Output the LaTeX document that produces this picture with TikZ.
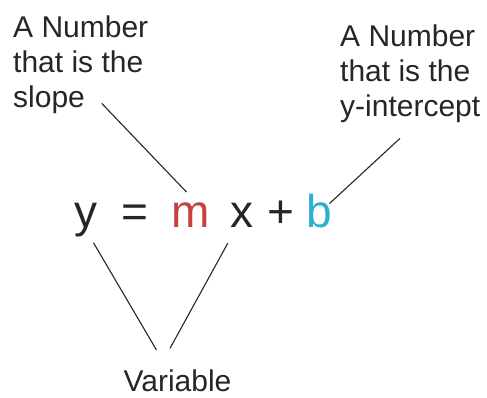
\documentclass[tikz,border=0pt]{standalone}
\usepackage{fontspec}
\setmainfont{Liberation Sans}
\definecolor{ink}{RGB}{38,38,38}
\definecolor{slopered}{RGB}{198,66,64}
\definecolor{cutblue}{RGB}{44,176,206}
\begin{document}
\begin{tikzpicture}[x=1pt,y=1pt,
        note/.style={inner sep=0pt,align=left,text=ink,font=\fontsize{30}{35}\selectfont},
        sym/.style={inner sep=0pt,anchor=base,text=ink,font=\fontsize{46}{50}\selectfont},
        lead/.style={line width=1.1pt,draw=ink}]
        \useasboundingbox (0,0) rectangle (487,398);
        % the two labels on top
        \node[note,anchor=north west] (slope) at (13,382) {A Number\\that is the\\slope};
        \node[note,anchor=north west] (cut) at (340,373) {A Number\\that is the\\y-intercept};
        % y = m x + b
        \node[sym] (y) at (85.5,170) {y};
        \node[sym] (eq) at (135,170) {=};
        \node[sym,text=slopered] (m) at (190.5,170) {m};
        \node[sym] (x) at (241.5,170) {x};
        \node[sym] (plus) at (280.5,170) {+};
        \node[sym,text=cutblue] (b) at (319.5,170) {b};
        % label below
        \node[note,anchor=base] (var) at (177.5,6) {Variable};
        % leader lines
        \draw[lead] ([shift={(88.7,11)}]slope.south west) -- ([shift={(-4,11)}]m.north);
        \draw[lead] ([shift={(60,-15)}]cut.south west) -- ([shift={(-3,8)}]b.east);
        \draw[lead] ([shift={(8,-5)}]y.south) -- ([shift={(-21,20)}]var.north);
        \draw[lead] ([shift={(-2,-15)}]x.south west) -- ([shift={(-7.5,21.7)}]var.north);
\end{tikzpicture}
\end{document}
